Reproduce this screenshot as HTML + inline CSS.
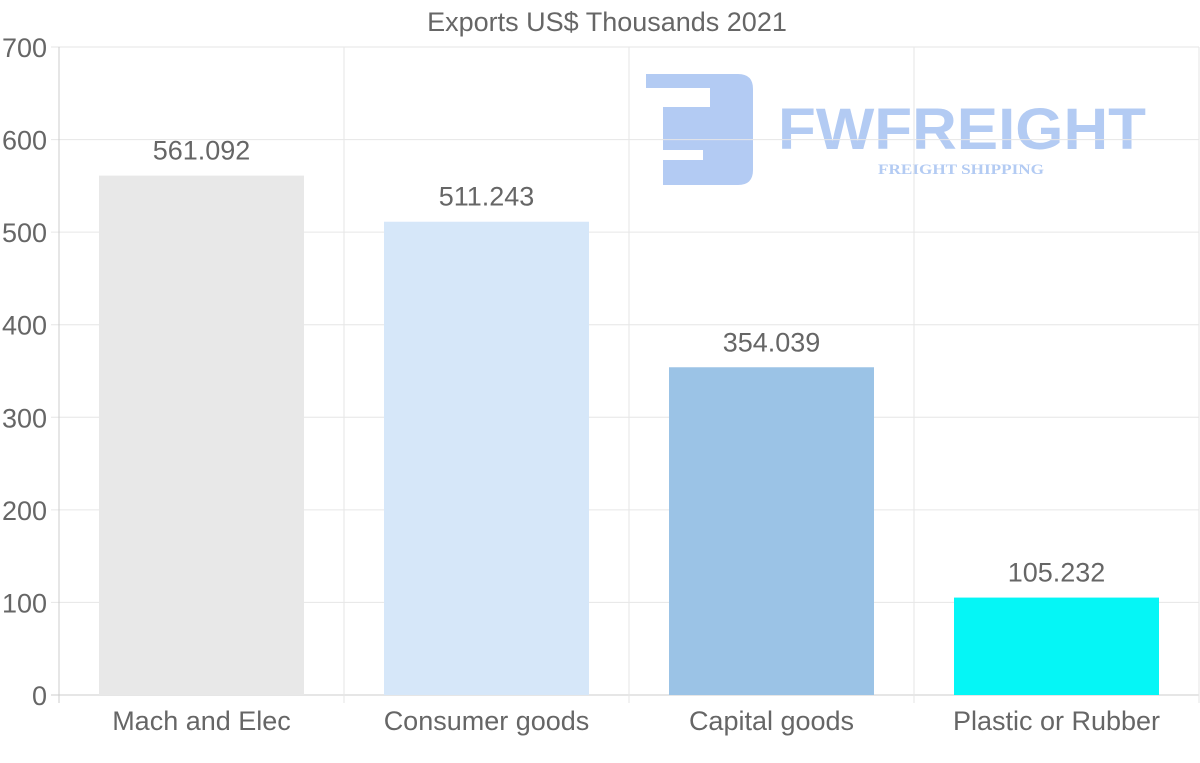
<!DOCTYPE html>
<html><head><meta charset="utf-8"><style>
html,body{margin:0;padding:0;background:#fff}
svg{display:block;font-family:"Liberation Sans",sans-serif}
</style></head><body>
<svg id="chart" width="1200" height="763" viewBox="0 0 1200 763">
<g fill="#b3cbf3">
<path d="M646,74 H738 Q753,74 753,89 V170 Q753,185 738,185 H663 V160 H703 V150 H663 V107 H710 V88 H646 Z"/>
<text x="778" y="149" font-size="58" font-weight="bold" textLength="368" lengthAdjust="spacingAndGlyphs">FWFREIGHT</text>
<text x="878" y="174" font-size="15" font-weight="bold" font-family="Liberation Serif,serif" textLength="166" lengthAdjust="spacingAndGlyphs">FREIGHT SHIPPING</text>
</g>
<g id="grid"></g>
<g id="bars"></g>
<g id="labels"></g>
<text x="607" y="31" font-size="27" fill="#666" text-anchor="middle">Exports US$ Thousands 2021</text>
</svg>
<script>
const categories=["Mach and Elec","Consumer goods","Capital goods","Plastic or Rubber"];
const values=[561.092,511.243,354.039,105.232];
const valueLabels=["561.092","511.243","354.039","105.232"];
const colors=["#e8e8e8","#d6e7f9","#9bc3e6","#05f6f6"];
const yTicks=[0,100,200,300,400,500,600,700];
const NS="http://www.w3.org/2000/svg";
const L=59,R=1199,T=47,B=695,YMAX=700;
const y=v=>B-(v/YMAX)*(B-T);
const cw=(R-L)/categories.length;
const x=i=>L+i*cw;
function mk(tag,attrs,parent){const e=document.createElementNS(NS,tag);for(const k in attrs)e.setAttribute(k,attrs[k]);parent.appendChild(e);return e;}
const grid=document.getElementById('grid'),bars=document.getElementById('bars'),labels=document.getElementById('labels');
yTicks.forEach(t=>{
 const g=mk('line',{x1:51,x2:R,y1:y(t),y2:y(t),stroke:t===0?'#ccc':'#e6e6e6','stroke-width':1},grid);
 
 
 const tx=mk('text',{x:47,y:y(t)+10,'font-size':27,fill:'#666','text-anchor':'end'},labels);
 tx.textContent=t;
 
 
});
for(let i=0;i<=categories.length;i++){
 const v=mk('line',{x1:x(i),x2:x(i),y1:T,y2:B+8,stroke:i===0?'#ccc':'#e6e6e6','stroke-width':1},grid);
 
 
}
categories.forEach((c,i)=>{
 const bx=x(i)+40,bw=cw-80;
 const r=mk('rect',{x:bx,y:y(values[i]),width:bw,height:B-y(values[i]),fill:colors[i]},bars);
 
 
 const vl=mk('text',{x:bx+bw/2,y:y(values[i])-16,'font-size':27,fill:'#666','text-anchor':'middle'},labels);
 vl.textContent=valueLabels[i];
 
 
 const cl=mk('text',{x:x(i)+cw/2,y:730,'font-size':27,fill:'#666','text-anchor':'middle'},labels);
 cl.textContent=c;
 
 
});
</script>
</body></html>
